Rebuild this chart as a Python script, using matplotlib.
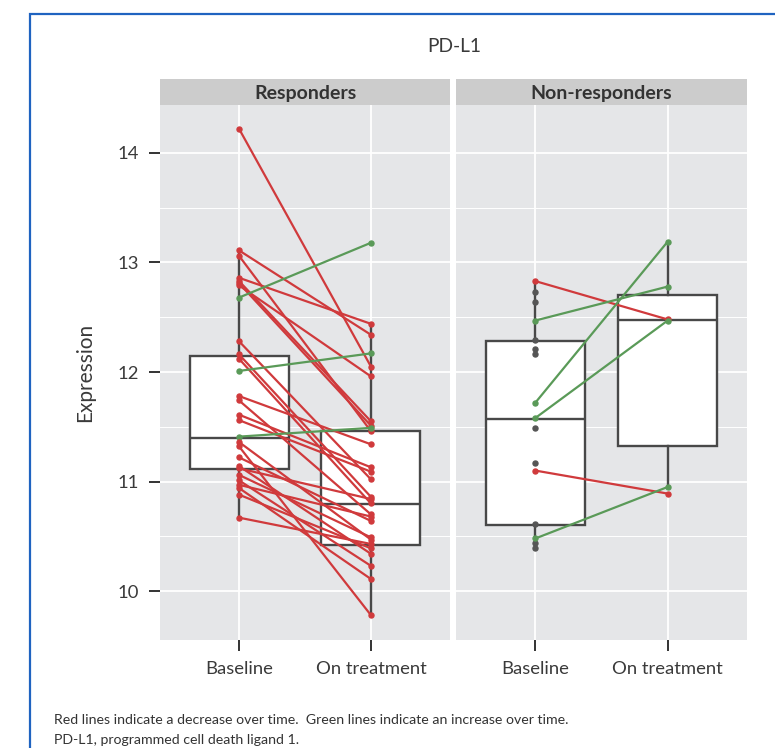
import matplotlib
matplotlib.use("Agg")
import matplotlib.pyplot as plt
from matplotlib.patches import Rectangle
from matplotlib.ticker import MultipleLocator

plt.rcParams['font.family'] = ['Lato', 'DejaVu Sans']

# ---------------- data ----------------
timepoints = ["Baseline", "On treatment"]
groups = ["Responders", "Non-responders"]

# Responders: paired baseline -> on treatment
resp_base = [14.22, 13.11, 13.06, 12.86, 12.83, 12.81, 12.79, 12.68, 12.28, 12.16,
             12.12, 12.01, 11.78, 11.74, 11.61, 11.56, 11.41, 11.36, 11.32, 11.22,
             11.14, 11.12, 11.06, 11.01, 10.97, 10.94, 10.88, 10.67]
resp_treat = [12.05, 12.34, 11.46, 12.44, 11.55, 11.51, 11.96, 13.18, 11.02, 10.86,
              10.80, 12.17, 11.34, 10.70, 11.13, 11.09, 11.49, 10.47, 9.78, 10.64,
              10.34, 10.84, 10.49, 10.23, 10.68, 10.11, 10.39, 10.43]

# Non-responders: paired samples
nonr_base = [12.83, 12.47, 11.72, 11.58, 11.10, 10.48]
nonr_treat = [12.48, 12.78, 13.19, 12.47, 10.89, 10.95]
# Non-responders: unpaired baseline samples
nonr_base_unpaired = [12.73, 12.64, 12.29, 12.21, 12.16, 11.49, 11.17, 10.61, 10.44, 10.39]

# box statistics (q1, median, q3, lower whisker, upper whisker)
resp_box = [dict(q1=11.11, med=11.40, q3=12.15, whislo=10.67, whishi=13.11),
            dict(q1=10.42, med=10.795, q3=11.46, whislo=9.78, whishi=12.44)]
nonr_box = [dict(q1=10.60, med=11.575, q3=12.28, whislo=10.39, whishi=12.83),
            dict(q1=11.32, med=12.475, q3=12.70, whislo=10.94, whishi=13.19)]

y_ticks = [10, 11, 12, 13, 14]

# ---------------- style ----------------
RED = "#D03A3C"
GREEN = "#5A9A58"
GREY_PT = "#555555"
BOX_C = "#484848"
PANEL_BG = "#E5E6E8"
STRIP_BG = "#CCCCCC"
TXT = "#3A3A3A"

W, H = 775, 748
fig = plt.figure(figsize=(W / 100, H / 100), dpi=100)

def fx(px):
    return px / W

def fy(py):
    return 1 - py / H

# blue frame
fig.patches.append(Rectangle((fx(30), fy(800)), fx(800), fy(14) - fy(800),
                             transform=fig.transFigure, fill=False,
                             edgecolor="#1F63C0", linewidth=1.6, clip_on=False))

panels = [(160, 450), (456, 747)]
ptop, pbot = 105, 640
datasets = [
    (resp_base, resp_treat, [], resp_box),
    (nonr_base, nonr_treat, nonr_base_unpaired, nonr_box),
]

for i, ((x0, x1), (base, treat, extra, boxes)) in enumerate(zip(panels, datasets)):
    ax = fig.add_axes([fx(x0), fy(pbot), fx(x1) - fx(x0), fy(ptop) - fy(pbot)])
    ax.set_facecolor(PANEL_BG)
    for s in ax.spines.values():
        s.set_visible(False)
    ax.set_axisbelow(True)

    ax.bxp(boxes, positions=[1, 2], widths=0.75, showcaps=False, showfliers=False,
           patch_artist=True, manage_ticks=False,
           boxprops=dict(facecolor="white", edgecolor=BOX_C, linewidth=1.7),
           whiskerprops=dict(color=BOX_C, linewidth=1.7),
           medianprops=dict(color=BOX_C, linewidth=1.7))

    if extra:
        ax.plot([1] * len(extra), extra, "o", color=GREY_PT, markersize=3.6,
                linestyle="none", zorder=4)
    for b, t in zip(base, treat):
        c = GREEN if t > b else RED
        ax.plot([1, 2], [b, t], "-o", color=c, linewidth=1.6, markersize=3.6, zorder=5)

    ax.set_xlim(0.4, 2.6)
    ax.set_ylim(9.553, 14.438)
    ax.set_yticks(y_ticks)
    ax.yaxis.set_minor_locator(MultipleLocator(0.5))
    ax.set_xticks([1, 2])
    ax.set_xticklabels(timepoints, fontsize=13.3, color=TXT)
    ax.grid(True, which="major", color="white", linewidth=1.3)
    ax.grid(True, which="minor", axis="y", color="white", linewidth=0.7)
    ax.tick_params(axis="x", length=8, width=1.4, color="#333333", pad=7)
    if i == 0:
        ax.set_yticklabels([str(v) for v in y_ticks], fontsize=13.3, color=TXT)
        ax.tick_params(axis="y", which="major", length=8, width=1.4, color="#333333", pad=7)
        ax.tick_params(axis="y", which="minor", length=0)
        ax.set_ylabel("Expression", fontsize=15, color=TXT, labelpad=16)
    else:
        ax.tick_params(axis="y", which="both", length=0, labelleft=False)

    # strip
    sax = fig.add_axes([fx(x0), fy(ptop), fx(x1) - fx(x0), fy(79) - fy(ptop)])
    sax.set_facecolor(STRIP_BG)
    sax.set_xticks([]); sax.set_yticks([])
    for s in sax.spines.values():
        s.set_visible(False)
    sax.text(0.5, 0.45, groups[i], ha="center", va="center", fontsize=14,
             fontweight="bold", color="#333333", transform=sax.transAxes)

fig.text(fx(454), fy(46), "PD-L1", ha="center", va="center", fontsize=13.8, color=TXT)
fig.text(fx(54), fy(720), "Red lines indicate a decrease over time.  Green lines indicate an increase over time.",
         ha="left", va="center", fontsize=10.2, color="#333333")
fig.text(fx(54), fy(740), "PD-L1, programmed cell death ligand 1.",
         ha="left", va="center", fontsize=10.2, color="#333333")

fig.savefig("out.png", dpi=100)
